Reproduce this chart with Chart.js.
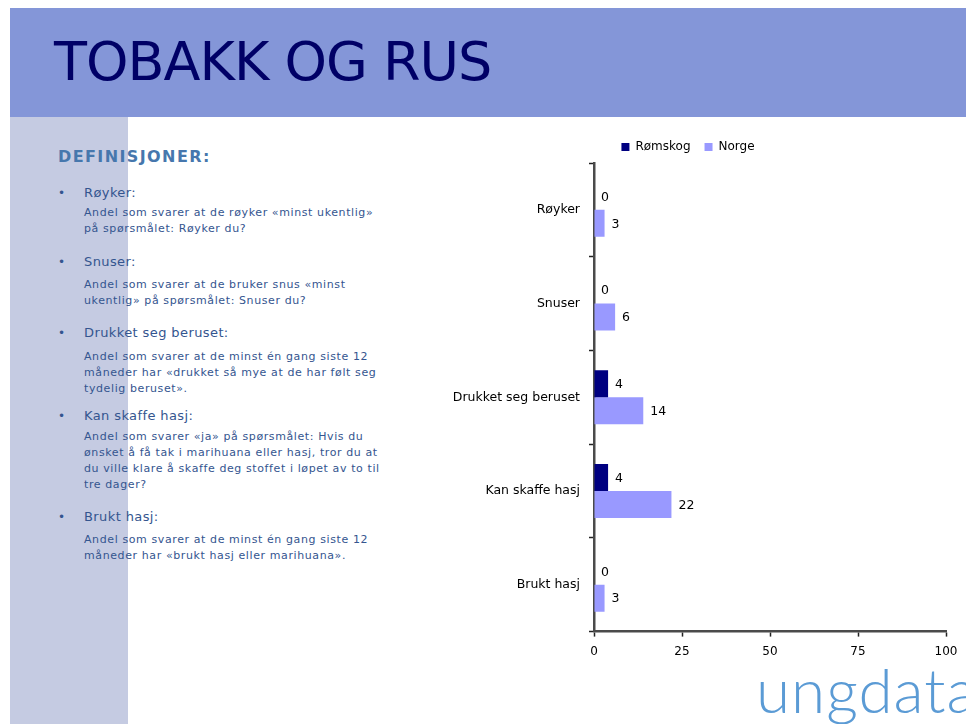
<!DOCTYPE html>
<html>
<head>
<meta charset="utf-8">
<script src="https://cdn.jsdelivr.net/npm/chart.js@4"></script>
<style>
  body { margin: 0; width: 966px; height: 724px; background: #fff; position: relative; overflow: hidden; font-family: "DejaVu Sans", Verdana, sans-serif; }
  .header { position: absolute; left: 10px; top: 8px; width: 956px; height: 109px; background: #8496d8; }
  .header h1 { margin: 0; position: absolute; left: 44px; top: 22px; font-size: 54px; font-weight: normal; color: #000066; letter-spacing: -1px; }
  .strip { position: absolute; left: 10px; top: 117px; width: 118px; height: 607px; background: #c5cbe2; }
  .defs h2 { position: absolute; left: 58px; top: 147px; margin: 0; line-height: 20px; font-size: 16px; font-weight: bold; color: #4677ad; letter-spacing: 1.4px; white-space: nowrap; }
  .t, .d, .b { position: absolute; color: #34558f; white-space: nowrap; }
  .b { left: 58px; font-size: 12px; line-height: 16px; }
  .t { left: 84px; font-size: 13px; line-height: 16px; letter-spacing: 0.4px; }
  .d { left: 84px; font-size: 11px; line-height: 16px; letter-spacing: 0.6px; }
  #wrap { position: absolute; left: 430px; top: 127px; width: 536px; height: 550px; }
  .logo { position: absolute; left: 756px; top: 658px; font-family: Lato, "Open Sans", sans-serif; font-weight: 300; font-size: 62px; line-height: 62px; color: #5b9bd5; letter-spacing: 1px; white-space: nowrap; }
</style>
</head>
<body>
<div class="header"><h1>TOBAKK OG RUS</h1></div>
<div class="strip"></div>
<div class="defs">
  <h2>DEFINISJONER:</h2>
  <div class="b" style="top:185px">•</div>
  <div class="t" style="top:185px">Røyker:</div>
  <div class="d" style="top:205px">Andel som svarer at de røyker «minst ukentlig»<br>på spørsmålet: Røyker du?</div>
  <div class="b" style="top:254px">•</div>
  <div class="t" style="top:254px">Snuser:</div>
  <div class="d" style="top:277px">Andel som svarer at de bruker snus «minst<br>ukentlig» på spørsmålet: Snuser du?</div>
  <div class="b" style="top:325px">•</div>
  <div class="t" style="top:325px">Drukket seg beruset:</div>
  <div class="d" style="top:349px">Andel som svarer at de minst én gang siste 12<br>måneder har «drukket så mye at de har følt seg<br>tydelig beruset».</div>
  <div class="b" style="top:408px">•</div>
  <div class="t" style="top:408px">Kan skaffe hasj:</div>
  <div class="d" style="top:429px">Andel som svarer «ja» på spørsmålet: Hvis du<br>ønsket å få tak i marihuana eller hasj, tror du at<br>du ville klare å skaffe deg stoffet i løpet av to til<br>tre dager?</div>
  <div class="b" style="top:509px">•</div>
  <div class="t" style="top:509px">Brukt hasj:</div>
  <div class="d" style="top:532px">Andel som svarer at de minst én gang siste 12<br>måneder har «brukt hasj eller marihuana».</div>
</div>
<div id="wrap"><canvas id="chart" width="536" height="550"></canvas></div>
<div class="logo">ungdata</div>
<script>
const categories = ['Røyker', 'Snuser', 'Drukket seg beruset', 'Kan skaffe hasj', 'Brukt hasj'];
const romskogValues = [0, 0, 4, 4, 0];
const norgeValues = [3, 6, 14, 22, 3];
const xTicks = [0, 25, 50, 75, 100];

const chartFont = '"DejaVu Sans", sans-serif';

// draw value labels right of each bar
const valueLabels = {
    id: 'valueLabels',
    afterDatasetsDraw(chart) {
        const ctx = chart.ctx;
        ctx.save();
        ctx.font = '12.5px ' + chartFont;
        ctx.fillStyle = '#000';
        ctx.textBaseline = 'middle';
        chart.data.datasets.forEach(function (ds, i) {
            chart.getDatasetMeta(i).data.forEach(function (bar, j) {
                ctx.fillText(ds.data[j], bar.x + 7, bar.y + 1);
            });
        });
        ctx.restore();
    }
};

new Chart(document.getElementById('chart'), {
    type: 'bar',
    data: {
        labels: categories,
        datasets: [
            { label: 'Rømskog', data: romskogValues, backgroundColor: '#000080' },
            { label: 'Norge', data: norgeValues, backgroundColor: '#9999ff' }
        ]
    },
    options: {
        indexAxis: 'y',
        responsive: false,
        animation: false,
        devicePixelRatio: 1,
        layout: { padding: { right: 20, top: 0, bottom: 10 } },
        datasets: { bar: { categoryPercentage: 0.575, barPercentage: 1 } },
        plugins: {
            legend: {
                position: 'top',
                labels: {
                    boxWidth: 8,
                    boxHeight: 8,
                    padding: 14,
                    color: '#000',
                    font: { family: chartFont, size: 12 }
                }
            },
            tooltip: { enabled: false }
        },
        scales: {
            x: {
                min: 0,
                max: 100,
                afterBuildTicks: function (scale) {
                    scale.ticks = xTicks.map(function (v) { return { value: v }; });
                },
                grid: { drawOnChartArea: false, color: '#222', tickLength: 5, tickWidth: 1.5 },
                border: { color: '#4a4a4a', width: 2.5 },
                ticks: { color: '#000', padding: 8, maxRotation: 0, font: { family: chartFont, size: 12 } }
            },
            y: {
                afterFit: function (scale) { scale.width = 164; },
                grid: { drawOnChartArea: false, color: '#222', tickLength: 5, tickWidth: 1.5, offset: true },
                border: { color: '#4a4a4a', width: 2.5 },
                ticks: { color: '#000', padding: 9, font: { family: chartFont, size: 12.5 } }
            }
        }
    },
    plugins: [valueLabels]
});
</script>
</body>
</html>
